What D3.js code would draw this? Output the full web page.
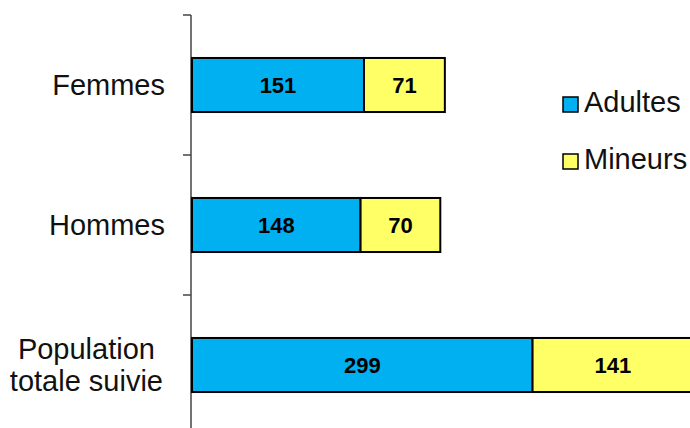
<!DOCTYPE html>
<html>
<head>
<meta charset="utf-8">
<script src="https://cdn.jsdelivr.net/npm/d3@7"></script>
<style>
  html, body { margin: 0; padding: 0; background: #fff; }
  svg { display: block; font-family: "Liberation Sans", Arial, sans-serif; }
</style>
</head>
<body>
<svg id="chart"></svg>
<script>
// categories, top to bottom
var categories = ["Femmes", "Hommes", "Population totale suivie"];
var categoryLines = [["Femmes"], ["Hommes"], ["Population", "totale suivie"]];
var series = ["Adultes", "Mineurs"];
var adultes = [151, 148, 299];
var mineurs = [71, 70, 141];
var colors = ["#00b0f0", "#ffff66"];

var svgWidth = 690, svgHeight = 428;
var svg = d3.select("#chart")
    .attr("width", svgWidth)
    .attr("height", svgHeight);

var axisX = 191;

// band scale for the tick boundaries, another one for the bars
var yStep = d3.scaleBand()
    .domain(categories)
    .range([15, 435]);

var y = d3.scaleBand()
    .domain(categories)
    .range([15, 435])
    .paddingInner(0.614)
    .paddingOuter(0.307);

var x = d3.scaleLinear()
    .domain([0, 500])
    .range([axisX + 1, axisX + 1 + 569.5]);

var stacked = d3.stack().keys(series)(categories.map(function(c, i) {
    return { cat: c, Adultes: adultes[i], Mineurs: mineurs[i] };
}));

// axis line + boundary ticks
var g = svg.append("g");
g.append("line")
    .attr("x1", axisX).attr("x2", axisX)
    .attr("y1", yStep.range()[0]).attr("y2", svgHeight)
    .attr("stroke", "#444").attr("stroke-width", 1.5);
categories.forEach(function(c) {
    g.append("line")
        .attr("x1", axisX - 8).attr("x2", axisX)
        .attr("y1", yStep(c)).attr("y2", yStep(c))
        .attr("stroke", "#444").attr("stroke-width", 1.5);
});

// bars
var layers = svg.append("g").selectAll("g")
    .data(stacked)
    .enter().append("g")
    .attr("fill", function(d, i) { return colors[i]; });

layers.selectAll("rect")
    .data(function(d) { return d; })
    .enter().append("rect")
    .attr("x", function(d) { return x(d[0]); })
    .attr("y", function(d) { return y(d.data.cat); })
    .attr("width", function(d) { return x(d[1]) - x(d[0]); })
    .attr("height", y.bandwidth())
    .attr("stroke", "#000")
    .attr("stroke-width", 2);

// value labels
layers.selectAll("text")
    .data(function(d) { return d; })
    .enter().append("text")
    .attr("x", function(d) { return (x(d[0]) + x(d[1])) / 2; })
    .attr("y", function(d) { return y(d.data.cat) + y.bandwidth() / 2; })
    .attr("dy", "0.36em")
    .attr("text-anchor", "middle")
    .attr("fill", "#000")
    .style("font-size", "22px")
    .style("font-weight", "bold")
    .text(function(d) { return d[1] - d[0]; });

// category labels
var labelRight = 165;
categories.forEach(function(c, i) {
    var lines = categoryLines[i];
    var cy = y(c) + y.bandwidth() / 2;
    var lh = 32;
    var t = svg.append("text")
        .attr("fill", "#111")
        .style("font-size", "29px");
    lines.forEach(function(l, j) {
        t.append("tspan")
            .attr("y", cy + (j - (lines.length - 1) / 2) * lh)
            .attr("dy", "0.36em")
            .text(l);
    });
    if (lines.length == 1) {
        t.attr("text-anchor", "end").selectAll("tspan").attr("x", labelRight);
    } else {
        var w = d3.max(t.selectAll("tspan").nodes(), function(n) { return n.getComputedTextLength(); });
        t.attr("text-anchor", "middle").selectAll("tspan").attr("x", labelRight - 2 - w / 2);
    }
});

// legend
var legend = svg.append("g").selectAll("g")
    .data(series)
    .enter().append("g")
    .attr("transform", function(d, i) { return "translate(563," + (97 + i * 57) + ")"; });

legend.append("rect")
    .attr("width", 15).attr("height", 15)
    .attr("fill", function(d, i) { return colors[i]; })
    .attr("stroke", "#000").attr("stroke-width", 1.5);

legend.append("text")
    .attr("x", 21).attr("y", 15)
    .attr("fill", "#111")
    .style("font-size", "29px")
    .text(function(d) { return d; });
</script>
</body>
</html>
